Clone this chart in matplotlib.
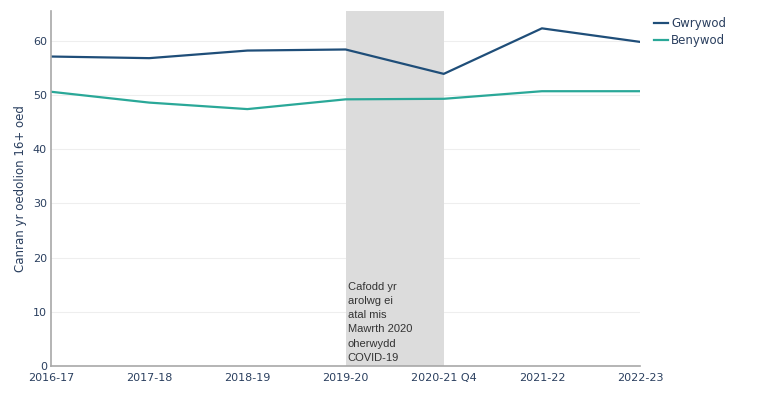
import matplotlib
matplotlib.use("Agg")
import matplotlib.pyplot as plt

years = ["2016-17", "2017-18", "2018-19", "2019-20", "2020-21 Q4", "2021-22", "2022-23"]
gwrywod = [57.1, 56.8, 58.2, 58.4, 53.9, 62.3, 59.8]
benywod = [50.6, 48.6, 47.4, 49.2, 49.3, 50.7, 50.7]
covid_note = "Cafodd yr\narolwg ei\natal mis\nMawrth 2020\noherwydd\nCOVID-19"

tick_col = "#2a3f5f"
fig = plt.figure(figsize=(7.64, 4.0), dpi=100)
ax = fig.add_axes([0.0668, 0.085, 0.771, 0.8875])

x = list(range(len(years)))
ax.axvspan(3, 4, color="#dcdcdc", zorder=2, lw=0)
ax.plot(x, gwrywod, color="#1f4e79", lw=1.6, label="Gwrywod", zorder=3)
ax.plot(x, benywod, color="#2aa898", lw=1.6, label="Benywod", zorder=3)

ax.text(3.02, 0.6, covid_note, ha="left", va="bottom", fontsize=8,
        family="Liberation Sans", color="#333333", linespacing=1.52, zorder=4)

ax.set_xlim(0, 6)
ax.set_ylim(0, 65.5)
ax.set_xticks(x)
ax.set_xticklabels(years)
ax.set_yticks(range(0, 61, 10))
ax.grid(axis="y", color="#eeeeee", lw=0.8, zorder=1)
ax.set_axisbelow(True)
ax.tick_params(length=0, labelsize=8, colors=tick_col, pad=3)
ax.tick_params(axis="x", pad=5)
ax.set_ylabel("Canran yr oedolion 16+ oed", fontsize=8.5, color=tick_col, labelpad=4)
for s in ["top", "right"]:
    ax.spines[s].set_visible(False)
for s in ["left", "bottom"]:
    ax.spines[s].set_color("#a8a8a8")
    ax.spines[s].set_linewidth(1.2)
    ax.spines[s].set_zorder(5)

leg = ax.legend(loc="upper left", bbox_to_anchor=(1.015, 0.995), frameon=False,
                fontsize=8.5, handlelength=1.2, handletextpad=0.3,
                labelspacing=0.3, borderaxespad=0)
for t in leg.get_texts():
    t.set_color(tick_col)

fig.savefig("out.png", dpi=100)
